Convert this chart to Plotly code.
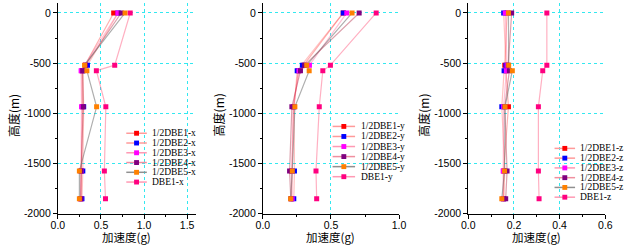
import plotly.graph_objects as go

W, H = 629, 252

depth = [0, -520, -575, -935, -1575, -1850]

names = ["1/2DBE1", "1/2DBE2", "1/2DBE3", "1/2DBE4", "1/2DBE5", "DBE1"]

x_vals = [
    [0.648, 0.32, 0.28, 0.285, 0.27, 0.27],
    [0.70, 0.344, 0.29, 0.30, 0.29, 0.28],
    [0.697, 0.32, 0.27, 0.275, 0.27, 0.265],
    [0.735, 0.32, 0.288, 0.295, 0.27, 0.265],
    [0.78, 0.31, 0.337, 0.45, 0.25, 0.25],
    [0.84, 0.66, 0.447, 0.557, 0.54, 0.553],
]
y_vals = [
    [0.59, 0.30, 0.26, 0.225, 0.215, 0.21],
    [0.59, 0.29, 0.252, 0.23, 0.232, 0.227],
    [0.616, 0.342, 0.265, 0.225, 0.21, 0.215],
    [0.707, 0.306, 0.276, 0.213, 0.196, 0.205],
    [0.655, 0.322, 0.34, 0.235, 0.216, 0.204],
    [0.832, 0.496, 0.44, 0.414, 0.39, 0.395],
]
z_vals = [
    [0.17, 0.16, 0.165, 0.176, 0.155, 0.155],
    [0.155, 0.165, 0.157, 0.147, 0.16, 0.155],
    [0.162, 0.17, 0.167, 0.155, 0.153, 0.152],
    [0.19, 0.175, 0.18, 0.16, 0.17, 0.164],
    [0.176, 0.177, 0.193, 0.161, 0.159, 0.147],
    [0.344, 0.344, 0.326, 0.307, 0.307, 0.31],
]

x_ticks = [[0.0, 0.5, 1.0, 1.5], [0.0, 0.5, 1.0], [0.0, 0.2, 0.4, 0.6]]
x_ranges = [[0, 1.6], [0, 1.0], [0, 0.6]]
y_ticks = [0, -500, -1000, -1500, -2000]
suffix = ["x", "y", "z"]

marker_colors = ["#ff0000", "#0000ff", "#ff00ff", "#800080", "#ff8000", "#ff0080"]
line_colors = ["rgba(255,60,60,0.4)", "rgba(255,80,80,0.35)", "rgba(255,100,150,0.4)",
               "rgba(170,20,50,0.4)", "rgba(110,110,110,0.55)", "rgba(255,80,120,0.45)"]
legend_line_colors = ["#ff9a9a", "#ff9a9a", "#ff9ab4", "#f090a0", "#909090", "#ff9ab4"]

# pixel layout
x_dom_px = [(52, 193), (261.7, 401), (471.7, 612)]
y_dom_px = (3, 219)

def fx(px):
    return px / W

def fy(py):
    return 1 - py / H

fig = go.Figure()
datasets = [x_vals, y_vals, z_vals]
for k in range(3):
    xa = "x" if k == 0 else f"x{k+1}"
    ya = "y" if k == 0 else f"y{k+1}"
    for i in range(6):
        fig.add_trace(go.Scatter(
            x=datasets[k][i], y=depth, xaxis=xa, yaxis=ya,
            mode="lines+markers", name=f"{names[i]}-{suffix[k]}",
            line=dict(color=line_colors[i], width=1.2),
            marker=dict(symbol="square", size=5, color=marker_colors[i], line=dict(width=0)),
            showlegend=False,
        ))

grid = dict(showgrid=True, gridcolor="#33e8f0", griddash="dot", gridwidth=1)
layout = dict(width=W, height=H, margin=dict(l=0, r=0, t=0, b=0),
              paper_bgcolor="white", plot_bgcolor="white", showlegend=False)
for k in range(3):
    xk = "xaxis" if k == 0 else f"xaxis{k+1}"
    yk = "yaxis" if k == 0 else f"yaxis{k+1}"
    ya = "y" if k == 0 else f"y{k+1}"
    xa = "x" if k == 0 else f"x{k+1}"
    layout[xk] = dict(domain=[fx(x_dom_px[k][0]), fx(x_dom_px[k][1])], range=x_ranges[k],
                      anchor=ya, tickvals=x_ticks[k], ticktext=[f"{v:.1f}" for v in x_ticks[k]],
                      showline=True, linecolor="black", linewidth=1, ticks="outside",
                      ticklen=4, tickcolor="black", zeroline=False, ticklabelstandoff=-2,
                      minor=dict(ticks="outside", ticklen=2, tickcolor="black",
                                 dtick=(x_ticks[k][1] - x_ticks[k][0]) / 2, showgrid=False),
                      tickfont=dict(family="Liberation Sans", size=10.5, color="black"), **grid)
    layout[yk] = dict(domain=[fy(y_dom_px[1]), fy(y_dom_px[0])], range=[-2000, 100],
                      anchor=xa, tickvals=y_ticks, ticktext=[str(v) for v in y_ticks],
                      showline=True, linecolor="black", linewidth=1, ticks="outside",
                      ticklen=4, tickcolor="black", zeroline=False,
                      minor=dict(ticks="outside", ticklen=2, tickcolor="black", dtick=250,
                                 showgrid=False),
                      tickfont=dict(family="Liberation Sans", size=10.5, color="black"), **grid)
fig.update_layout(**layout)

shapes = []
annotations = []
title_font = dict(family="Noto Sans CJK SC", size=11.5, color="black")
ytitle_x = [6, 216, 426]
for k in range(3):
    cx = (x_dom_px[k][0] + x_dom_px[k][1]) / 2
    annotations.append(dict(text="加速度(g)", x=fx(cx), y=0, xref="paper", yref="paper",
                            showarrow=False, xanchor="center", yanchor="bottom", font=title_font,
                            borderpad=0))
    annotations.append(dict(text="高度(m)", x=fx(ytitle_x[k]), y=fy(118), xref="paper", yref="paper",
                            showarrow=False, xanchor="center", yanchor="middle", textangle=-90,
                            font=dict(family="Noto Sans CJK SC", size=12, color="black")))

# manual legends (pixel positions)
legends = [
    dict(x0=122, x1=143, text=146, y0=136.5, dy=10),
    dict(x0=333, x1=356, text=360, y0=129.5, dy=10.3),
    dict(x0=560, x1=581, text=584, y0=152, dy=10),
]
leg_font = dict(family="Liberation Serif", size=9.5, color="black")
for k, L in enumerate(legends):
    for i in range(6):
        yy = L["y0"] + L["dy"] * i
        shapes.append(dict(type="line", xref="paper", yref="paper",
                           x0=fx(L["x0"]), x1=fx(L["x1"]), y0=fy(yy), y1=fy(yy),
                           line=dict(color=legend_line_colors[i], width=1.5)))
        mx = (L["x0"] + L["x1"]) / 2
        shapes.append(dict(type="rect", xref="paper", yref="paper",
                           x0=fx(mx - 2.5), x1=fx(mx + 2.5), y0=fy(yy + 2.5), y1=fy(yy - 2.5),
                           fillcolor=marker_colors[i], line=dict(width=0)))
        annotations.append(dict(text=f"{names[i]}-{suffix[k]}", x=fx(L["text"]), y=fy(yy),
                                xref="paper", yref="paper", showarrow=False,
                                xanchor="left", yanchor="middle", font=leg_font))

fig.update_layout(shapes=shapes, annotations=annotations)
fig.write_html("out.html", config={"displayModeBar": False},
               post_script="document.body.style.margin='0';")
